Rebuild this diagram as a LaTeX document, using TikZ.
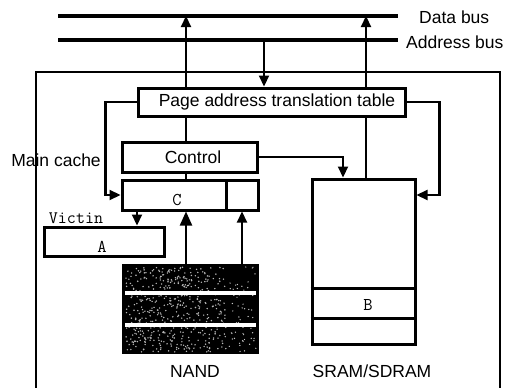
\documentclass[tikz,border=0pt]{standalone}
\usepackage{fontspec}
\setmainfont{Liberation Sans}
\usetikzlibrary{arrows.meta}
\tikzset{
  box/.style={draw, line width=3pt, fill=white, inner sep=0pt},
  conn/.style={line width=2.2pt},
  bus/.style={line width=4.2pt},
  tip/.style={-{Triangle[width=10pt,length=11pt]}},
  bigtip/.style={-{Triangle[width=12pt,length=14pt]}},
  lbl/.style={font=\fontsize{17.5}{19}\selectfont, inner sep=0pt},
  mono/.style={font=\ttfamily\fontsize{18}{20}\selectfont, inner sep=0pt},
  monosmall/.style={font=\ttfamily\fontsize{17.5}{19}\selectfont, inner sep=0pt}
}
\begin{document}
\begin{tikzpicture}[x=1pt,y=-1pt]
\useasboundingbox (0,0) rectangle (509,388);
\fill[white] (0,0) rectangle (509,388);

% enclosure of the memory subsystem
\draw[line width=2.2pt] (36,395) -- (36,72) -- (500,72) -- (500,395);

% buses
\coordinate (dbL) at (58,16);  \coordinate (dbR) at (398,16);
\coordinate (abL) at (58,40);  \coordinate (abR) at (398,40);
\draw[bus] (dbL) -- (dbR);
\draw[bus] (abL) -- (abR);
\node[lbl, anchor=west] (dblabel) at (419,17) {Data bus};
\node[lbl, anchor=west] (ablabel) at (406,42) {Address bus};

% blocks
\node[box, minimum width=267pt, minimum height=28pt] (table) at (271.5,102) {};
\node[lbl] (tabletext) at (277,102) {Page address translation table};
\node[box, minimum width=135pt, minimum height=30pt] (ctrl) at (189.5,157) {};
\node[lbl] (ctrltext) at (193,157) {Control};
\node[box, minimum width=104pt, minimum height=30pt] (cmain) at (174,195) {};
\node[box, minimum width=32pt, minimum height=30pt] (cside) at (242,195) {};
\node[mono] (ctext) at (177,200) {C};
\node[box, minimum width=120pt, minimum height=29pt] (abox) at (104,241.5) {};
\node[mono] (atext) at (102,246.5) {A};
\node[monosmall] (victin) at (76,218) {Victin};
\node[lbl] (maincache) at (56,160) {Main cache};

% SRAM/SDRAM
\node[box, minimum width=103pt, minimum height=165pt] (sram) at (363.5,261.5) {};
\draw[line width=3pt] (sram.west |- 0,288) -- (sram.east |- 0,288);
\draw[line width=3pt] (sram.west |- 0,318) -- (sram.east |- 0,318);
\node[mono] (btext) at (368,305) {B};
\node[lbl] (sramlabel) at (372,371) {SRAM/SDRAM};

% NAND array
\node[fill=black, inner sep=0pt, minimum width=137pt, minimum height=90pt] (nand) at (190.5,309) {};
\pgfmathsetseed{7}
\foreach \i in {1,...,500}{
  \pgfmathsetmacro\px{126+100*rnd}
  \pgfmathsetmacro\py{267+85*rnd}
  \fill[gray!55] (\px,\py) circle (0.8);
}
\foreach \i in {1,...,60}{
  \pgfmathsetmacro\px{228+28*rnd}
  \pgfmathsetmacro\py{267+85*rnd}
  \fill[gray!45] (\px,\py) circle (0.7);
}
\fill[white] (125,291) rectangle (256,295);
\fill[white] (125,323) rectangle (256,327);
\node[lbl] (nandlabel) at (195,371) {NAND};

% connections to the data bus
\coordinate (x186) at (186,16);
\coordinate (x366) at (366,16);
\draw[conn] (cmain.north -| x186) -- (ctrl.south -| x186);
\draw[conn] (ctrl.north -| x186) -- (table.south -| x186);
\draw[conn, tip] (table.north -| x186) -- (x186);
\draw[conn] (sram.north -| x366) -- (table.south -| x366);
\draw[conn, tip] (table.north -| x366) -- (x366);

% address bus into the translation table
\coordinate (x264) at (264,40);
\draw[conn, tip] (x264) -- (table.north -| x264);

% translation table outputs
\draw[conn, tip] (table.west) -- ++(-31,0) |- (cmain.west);
\draw[conn, tip] (table.east) -- ++(33,0) |- (sram.east |- cmain.west);

% control to SRAM
\draw[conn, tip] (ctrl.east) -| ([xshift=-20.5pt]sram.north);

% victim path
\draw[conn, tip] ([xshift=-37pt]cmain.south) -- ([xshift=-37pt]cmain.south |- abox.north);

% NAND to main cache
\draw[conn, bigtip] (nand.north -| x186) -- (cmain.south -| x186);
\draw[conn, tip] (nand.north -| cside) -- (cside.south);
\end{tikzpicture}
\end{document}
